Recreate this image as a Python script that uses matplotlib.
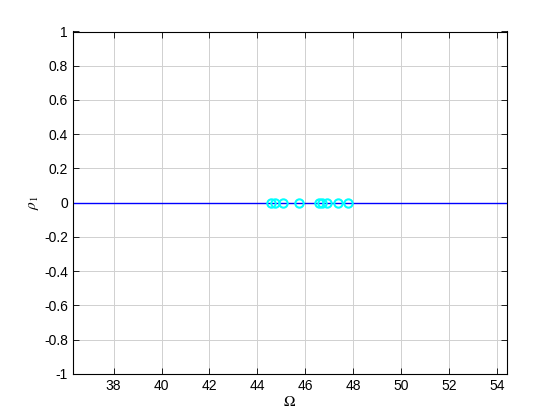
import matplotlib
matplotlib.use("Agg")
import matplotlib.pyplot as plt
import numpy as np

plt.rcParams['font.family'] = ['Liberation Sans', 'DejaVu Sans']
plt.rcParams['mathtext.fontset'] = 'stix'

omega_line = [36.3, 54.4]
rho_line = [0.0, 0.0]
omega_pts = [44.58, 44.75, 45.07, 45.72, 46.55, 46.70, 46.90, 47.35, 47.78]
rho_pts = [0, 0, 0, 0, 0, 0, 0, 0, 0]
xticks = [38, 40, 42, 44, 46, 48, 50, 52, 54]
yticks = [-1, -0.8, -0.6, -0.4, -0.2, 0, 0.2, 0.4, 0.6, 0.8, 1]
ytick_labels = ['-1', '-0.8', '-0.6', '-0.4', '-0.2', '0', '0.2', '0.4', '0.6', '0.8', '1']

fig = plt.figure(figsize=(5.6, 4.2), dpi=100)
ax = fig.add_axes([0.13, 0.11, 0.775, 0.815])
ax.plot(omega_line, rho_line, color='blue', linewidth=1.0)
ax.plot(omega_pts, rho_pts, linestyle='none', marker='o', markersize=6,
        markerfacecolor='none', markeredgecolor='cyan', markeredgewidth=1.5)
ax.set_xlim(36.3, 54.4)
ax.set_ylim(-1, 1)
ax.set_xticks(xticks)
ax.set_yticks(yticks)
ax.set_yticklabels(ytick_labels)
ax.grid(True, color='#d0d0d0', linewidth=0.7)
ax.set_axisbelow(True)
ax.tick_params(direction='in', length=4, labelsize=10, width=0.6, top=True, right=True)
for s in ax.spines.values():
    s.set_linewidth(0.8)
ax.set_xlabel(r'$\Omega$', fontsize=11, labelpad=2)
ax.set_ylabel(r'$\rho_1$', fontsize=11, labelpad=2)
fig.savefig('out.png', dpi=100)
